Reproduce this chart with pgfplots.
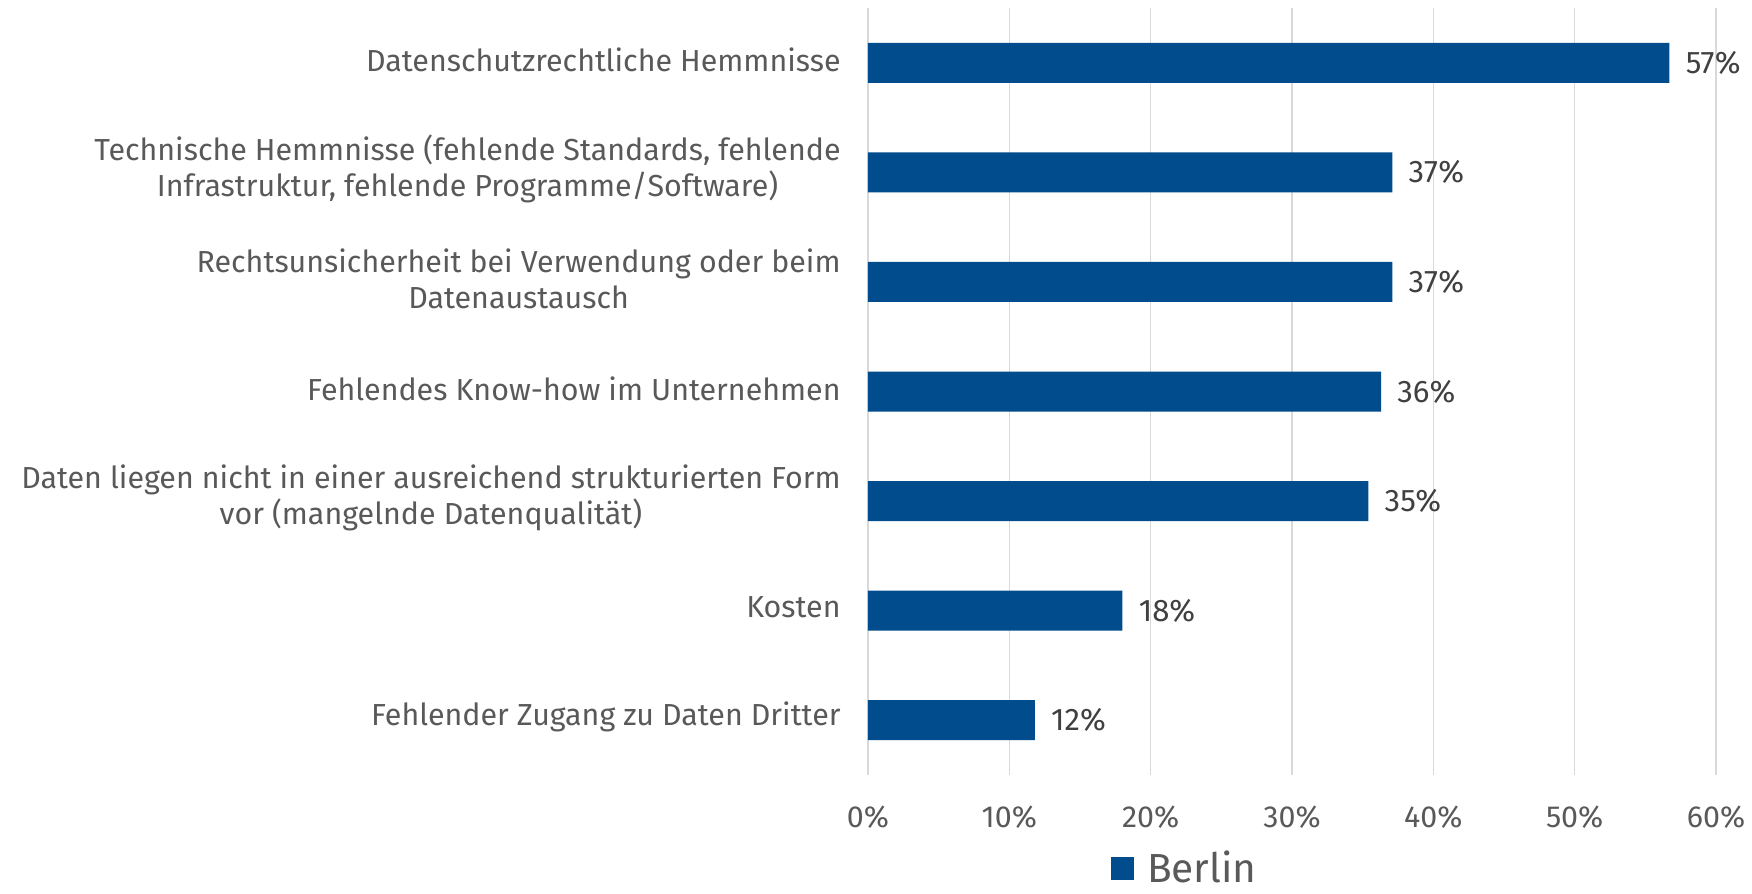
\documentclass[border=0pt]{standalone}
\usepackage{fontspec}
\setmainfont{Fira Sans}
\usepackage{pgfplots}
\pgfplotsset{compat=1.18}
\definecolor{berlin}{RGB}{0,76,140}
\definecolor{txt}{RGB}{89,89,89}
\definecolor{lbl}{RGB}{64,64,64}
\definecolor{gridc}{RGB}{217,217,217}

\begin{document}
\begin{tikzpicture}
\begin{axis}[
  at={(0,0)}, anchor=south west,
  scale only axis, width=424pt, height=383.5pt,
  xbar, bar width=20pt, bar shift=0pt,
  xmin=0, xmax=60, ymin=-0.5, ymax=6.5, y dir=reverse,
  axis line style={draw=none},
  major tick length=0pt,
  xtick={0,10,...,60},
  xticklabel={\pgfmathprintnumber{\tick}\%},
  /pgf/number format/assume math mode=true,
  ytick={0,...,6},
  yticklabels={
    {Datenschutzrechtliche Hemmnisse},
    {Technische Hemmnisse (fehlende Standards, fehlende\\Infrastruktur, fehlende Programme/Software)},
    {Rechtsunsicherheit bei Verwendung oder beim\\Datenaustausch},
    {Fehlendes Know-how im Unternehmen},
    {Daten liegen nicht in einer ausreichend strukturierten Form\\vor (mangelnde Datenqualität)},
    {Kosten},
    {Fehlender Zugang zu Daten Dritter}},
  xmajorgrids, ymajorgrids=false,
  major grid style={gridc, line width=0.75pt},
  tick label style={font=\fontsize{15.2}{18}\selectfont, text=txt},
  yticklabel style={align=center, inner sep=0pt, xshift=-13.5pt, yshift=1.5pt},
  xticklabel style={anchor=base, inner sep=0pt, yshift=-26pt},
  point meta=x,
  nodes near coords={\pgfmathprintnumber[fixed,precision=0]{\pgfplotspointmeta}\%},
  nodes near coords align={horizontal},
  every node near coord/.append style={anchor=west, inner sep=0pt, xshift=8pt, text=lbl,
    font=\fontsize{15.6}{18}\selectfont},
  legend style={at={(0.2866,-0.122)}, anchor=west, draw=none, fill=none,
    inner sep=0pt, outer sep=0pt, font=\fontsize{20.3}{24}\selectfont, text=txt,
    /tikz/every odd column/.append style={column sep=6.5pt}, nodes={inner sep=0pt}},
  legend image code/.code={\fill[berlin] (0pt,-5.75pt) rectangle (11.5pt,5.75pt);},
]
\addplot[fill=berlin, draw=none] coordinates {
  (56.7,0) (37.1,1) (37.1,2) (36.3,3) (35.4,4) (18.0,5) (11.8,6)};
\addlegendentry{Berlin}
\end{axis}
\pgfresetboundingbox
\path[use as bounding box] (-434pt,-59.5pt) rectangle (442pt,387.5pt);
\end{tikzpicture}
\end{document}
